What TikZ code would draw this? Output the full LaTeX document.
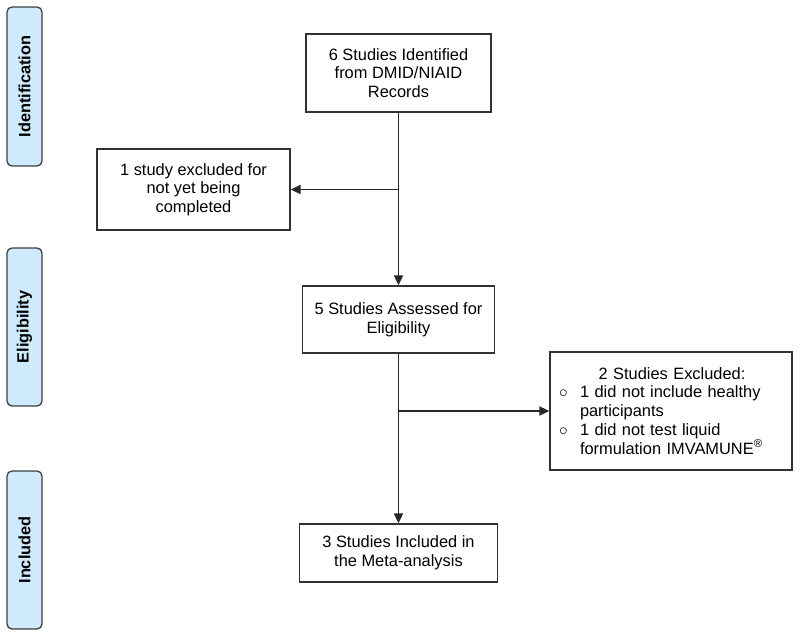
\documentclass[tikz,border=0pt]{standalone}
\usepackage{fontspec}
\setmainfont{Liberation Sans}
\usetikzlibrary{arrows.meta}
\definecolor{sidefill}{RGB}{206,234,252}
\definecolor{sidedraw}{RGB}{60,64,70}
\definecolor{boxdraw}{RGB}{50,50,50}
\tikzset{
  stagebox/.style={draw=sidedraw, line width=1.3pt, fill=sidefill, rounded corners=5pt,
    minimum width=35pt, inner sep=0pt},
  stagetext/.style={rotate=90, font=\fontsize{16.3}{18.5}\selectfont\bfseries},
  flowbox/.style={draw=boxdraw, line width=1.3pt, align=center, inner sep=0pt,
    font=\fontsize{16.4}{18.7}\selectfont},
  arr/.style={draw=black!85, line width=1.8pt, -{Triangle[length=10pt,width=9pt]}}
}
\begin{document}
\begin{tikzpicture}[x=1pt,y=-1pt]
\useasboundingbox (0,0) rectangle (800,637);
% stage labels
\node[stagebox, minimum height=159pt] (sid) at (24.5,86.5) {};
\node[stagetext] (sidt) at (sid.center) {Identification};
\node[stagebox, minimum height=158pt] (sel) at (24.5,327) {};
\node[stagetext] (selt) at (sel.center) {Eligibility};
\node[stagebox, minimum height=158pt] (sin) at (24.5,550) {};
\node[stagetext] (sint) at (sin.center) {Included};
% flow boxes
\node[flowbox, minimum width=185pt, minimum height=78pt] (top) at (398.5,73)
  {6 Studies Identified\\from DMID/NIAID\\Records};
\node[flowbox, minimum width=193pt, minimum height=81pt] (exa) at (193.5,189.5)
  {1 study excluded for\\not yet being\\completed};
\node[flowbox, minimum width=192pt, minimum height=67pt] (elig) at (398.5,319.5)
  {5 Studies Assessed for\\Eligibility};
\node[flowbox, minimum width=198pt, minimum height=58pt] (inc) at (398.5,553)
  {3 Studies Included in\\the Meta-analysis};
\node[flowbox, minimum width=242pt, minimum height=118pt, align=left, text width=226pt] (exb) at (671,411)
  {\makebox[226pt][c]{\hspace*{2pt}2 Studies Excluded:}\\[-0.5pt]
   \makebox[22pt][l]{\hspace*{1pt}$\circ$}1 did not include healthy\\
   \hspace*{22pt}participants\\
   \makebox[22pt][l]{\hspace*{1pt}$\circ$}1 did not test liquid\\
   \hspace*{22pt}formulation IMVAMUNE\textsuperscript{®}};
% connectors
\coordinate (ja) at (top.south |- exa.east);
\coordinate (jb) at (elig.south |- exb.west);
\draw[arr] (top.south) -- (elig.north);
\draw[arr] (ja) -- (exa.east);
\draw[arr] (elig.south) -- (inc.north);
\draw[arr] (jb) -- (exb.west);
\end{tikzpicture}
\end{document}
